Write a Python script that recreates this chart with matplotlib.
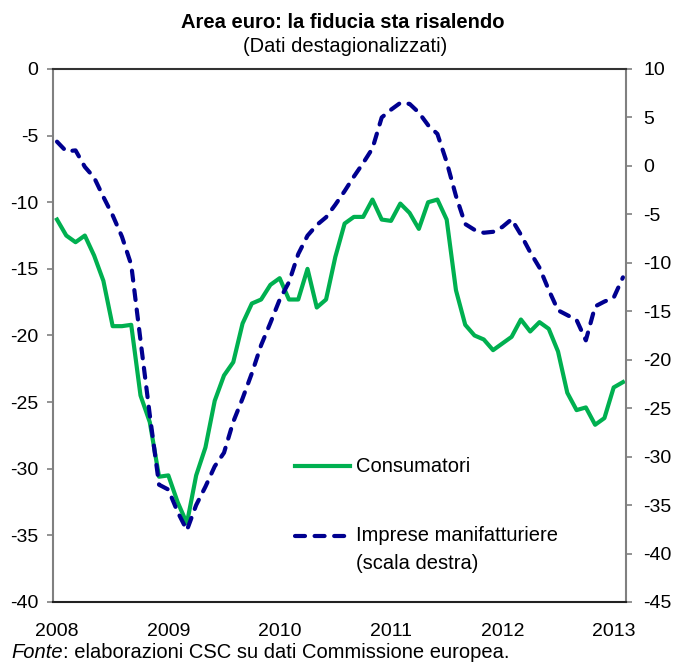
import numpy as np
import matplotlib.pyplot as plt

# Fiducia consumatori (scala sinistra), gen 2008 - feb 2013
consumatori = [-11.3, -12.5, -13.0, -12.5, -14.0, -15.9, -19.3, -19.3, -19.2, -24.5,
               -26.5, -30.6, -30.5, -32.5, -34.1, -30.5, -28.4, -24.9, -23.0, -22.0,
               -19.1, -17.6, -17.3, -16.2, -15.7, -17.3, -17.3, -15.0, -17.9, -17.3,
               -14.1, -11.6, -11.1, -11.1, -9.8, -11.3, -11.4, -10.1, -10.8, -12.0,
               -10.0, -9.8, -11.3, -16.6, -19.2, -20.0, -20.3, -21.1, -20.6, -20.1,
               -18.8, -19.7, -19.0, -19.5, -21.2, -24.3, -25.6, -25.4, -26.7, -26.2,
               -23.9, -23.5]

# Fiducia imprese manifatturiere (scala destra)
imprese = [2.5, 1.5, 1.6, -0.1, -1.2, -3.2, -5.1, -7.3, -10.2, -18.0,
           -25.7, -32.9, -33.4, -35.7, -37.6, -35.0, -33.1, -31.0, -29.6, -26.4,
           -24.0, -21.4, -18.5, -16.2, -13.8, -12.0, -9.1, -7.2, -6.1, -5.3,
           -4.0, -2.6, -1.1, 0.3, 1.8, 5.0, 5.8, 6.5, 6.4, 5.5,
           4.2, 3.3, 0.4, -3.1, -6.0, -6.6, -6.9, -6.8, -6.3, -5.5,
           -7.1, -8.9, -10.5, -12.8, -14.9, -15.4, -15.9, -18.0, -14.5, -14.0,
           -13.6, -11.5]

anni = ['2008', '2009', '2010', '2011', '2012', '2013']

plt.rcParams['font.family'] = ['Liberation Sans', 'DejaVu Sans']
plt.rcParams['axes.unicode_minus'] = False

VERDE = '#00B050'
BLU = '#000090'
GRIGIO = '#808080'

fig = plt.figure(figsize=(6.77, 6.64), dpi=100)
ax = fig.add_axes([0.0783, 0.0934, 0.8464, 0.8027])
ax2 = ax.twinx()

x = np.arange(len(consumatori))
ax.plot(x, consumatori, color=VERDE, lw=3)
ax2.plot(x, imprese, color=BLU, lw=3, dashes=(2.4, 2.3), dash_capstyle='round')

ax.set_xlim(-0.43, 61.33)
ax.set_ylim(-40, 0)
ax.set_yticks(np.arange(-40, 1, 5))
ax2.set_ylim(-45, 10)
ax2.set_yticks(np.arange(-45, 11, 5))
ax.set_xticks(np.arange(0, len(consumatori), 12))
ax.set_xticklabels(anni)

for s in ax.spines.values():
    s.set_visible(False)
ax2.spines['left'].set_color(GRIGIO)
ax2.spines['right'].set_color(GRIGIO)
ax2.spines['top'].set_color('#333333')
ax2.spines['bottom'].set_color('#222222')
for s in ax2.spines.values():
    s.set_linewidth(1.5)

ax.tick_params(axis='y', direction='out', length=4.5, width=1.2, color=GRIGIO,
               pad=6, labelsize=14)
ax.tick_params(axis='x', length=0, pad=15, labelsize=14)
ax2.tick_params(axis='y', direction='out', length=4.5, width=1.2, color=GRIGIO,
                pad=8, labelsize=14)

# legenda
tr = ax2.transAxes
ax2.plot([0.422, 0.518], [0.255, 0.255], color=VERDE, lw=3, transform=tr)
ax2.text(0.529, 0.255, 'Consumatori', transform=tr, va='center', size=14.5)
ax2.plot([0.422, 0.515], [0.124, 0.124], color=BLU, lw=3, dashes=(2.4, 2.3),
         dash_capstyle='round', transform=tr)
ax2.text(0.529, 0.124, 'Imprese manifatturiere', transform=tr, va='center', size=14.5)
ax2.text(0.529, 0.072, '(scala destra)', transform=tr, va='center', size=14.5)

fig.text(0.507, 1 - 22 / 664, 'Area euro: la fiducia sta risalendo', ha='center',
         va='center', size=14.5, weight='bold')
fig.text(0.51, 1 - 47 / 664, '(Dati destagionalizzati)', ha='center', va='center',
         size=14.5)

t1 = fig.text(11 / 677, 1 - 653 / 664, 'Fonte', style='italic', size=14.5, va='center')
ax.annotate(': elaborazioni CSC su dati Commissione europea.', xy=(1, 0),
            xycoords=t1, va='bottom', ha='left', size=14.5, annotation_clip=False)

fig.savefig('out.png', dpi=100)
